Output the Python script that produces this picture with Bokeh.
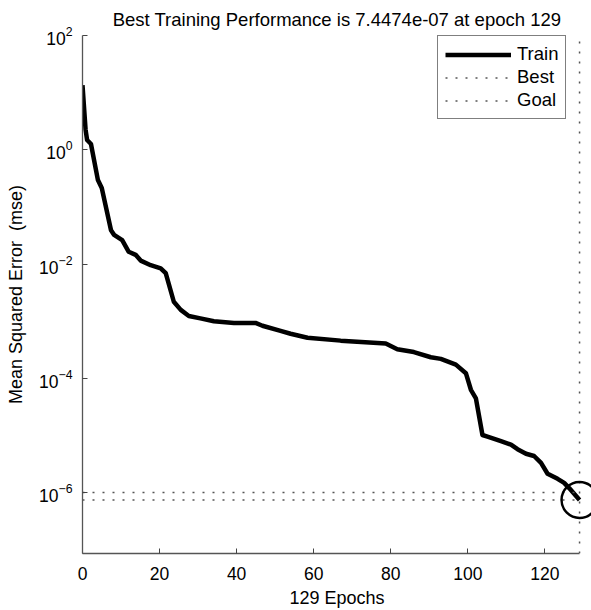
from bokeh.plotting import figure
from bokeh.models import Range1d, FixedTicker, Legend, LegendItem
from bokeh.embed import file_html
from bokeh.resources import INLINE

# ---- data ----
epochs = [0, 0.8, 1.2, 2.2, 4, 5, 7.4, 8.2, 10.3, 12, 13.8, 15.1, 17.7, 20.3,
          21.6, 23.7, 25.5, 27.6, 30.6, 34.1, 39.3, 44.9, 46.7, 51.4, 54,
          58.4, 67, 78.7, 81.7, 86, 90.4, 93, 96.9, 99.5, 100.8, 102.1,
          103.8, 105.1, 108.6, 111.2, 112.9, 115.1, 117.2, 119, 120.7,
          123.3, 125, 126.3, 129]
mse = [13.5, 2.24, 1.48, 1.26, 0.295, 0.214, 0.0389, 0.0324, 0.0263, 0.0164,
       0.0145, 0.0115, 0.00955, 0.00841, 0.00692, 0.00219, 0.00158, 0.00123,
       0.00112, 0.00100, 0.000933, 0.000933, 0.000832, 0.000676, 0.000603,
       0.000513, 0.000457, 0.000407, 0.000324, 0.000288, 0.000234, 0.000219,
       0.000174, 0.000123, 6.31e-5, 4.47e-5, 1.02e-5, 9.55e-6, 7.94e-6,
       6.92e-6, 5.75e-6, 4.79e-6, 4.37e-6, 3.31e-6, 2.14e-6, 1.74e-6,
       1.48e-6, 1.20e-6, 7.4474e-7]
best_epoch = 129
best_perf = 7.4474e-07
goal = 1e-06
x_ticks = [0, 20, 40, 60, 80, 100, 120]
y_ticks = [1e2, 1e0, 1e-2, 1e-4, 1e-6]
y_min, y_max = 8.6e-8, 1e2
x_min, x_axis_max, x_view_max = 0, 129, 132.1

FONT = "Liberation Sans"

p = figure(width=591, height=610, y_axis_type="log",
           x_range=Range1d(x_min, x_view_max), y_range=Range1d(y_min, y_max),
           output_backend="svg", toolbar_location=None,
           title="Best Training Performance is 7.4474e-07 at epoch 129")
p.min_border_left = 82
p.min_border_right = 0
p.min_border_top = 35
p.min_border_bottom = 55
p.outline_line_color = None
p.grid.visible = False
p.background_fill_color = "white"
p.border_fill_color = "white"

p.title.text_font = FONT
p.title.text_font_size = "18.5px"
p.title.text_font_style = "normal"
p.title.align = "center"
p.title.text_color = "black"
p.title.text_line_height = 0.6
p.title.standoff = 12

dot = "2 8"
r_train = p.line(epochs, mse, line_width=4.5, line_color="black",
                 line_join="round")
r_best_h = p.line([x_min, best_epoch], [best_perf, best_perf],
                  line_dash=dot, line_color="#555555", line_width=1.5)
r_best_v = p.line([best_epoch, best_epoch], [y_min, y_max],
                  line_dash=dot, line_color="#555555", line_width=1.5)
r_goal = p.line([x_min, best_epoch], [goal, goal],
                line_dash=dot, line_color="#555555", line_width=1.5)
p.scatter([best_epoch], [best_perf], marker="circle", size=36,
          fill_color=None, line_color="black", line_width=2.5)

legend = Legend(items=[LegendItem(label="Train", renderers=[r_train]),
                       LegendItem(label="Best", renderers=[r_best_h]),
                       LegendItem(label="Goal", renderers=[r_goal])],
                location=(355, 434))
legend.label_text_font = FONT
legend.label_text_font_size = "18.5px"
legend.label_text_color = "black"
legend.glyph_width = 66
legend.glyph_height = 21
legend.label_height = 21
legend.label_standoff = 6
legend.spacing = 1
legend.padding = 7
legend.margin = 0
legend.border_line_color = "black"
legend.border_line_width = 1.3
legend.background_fill_alpha = 1
p.add_layout(legend, "center")

p.xaxis.ticker = FixedTicker(ticks=x_ticks)
p.yaxis.ticker = FixedTicker(ticks=y_ticks)
p.xaxis.bounds = (x_min, x_axis_max)
for ax in (p.xaxis[0], p.yaxis[0]):
    ax.major_tick_in = 5
    ax.major_tick_out = 0
    ax.minor_tick_in = 0
    ax.minor_tick_out = 0
    ax.axis_line_color = "#555555"
    ax.axis_line_width = 1.3
    ax.major_tick_line_color = "#444444"
    ax.major_label_text_font = FONT
    ax.major_label_text_font_size = "17.5px"
    ax.major_label_text_color = "black"
    ax.axis_label_text_font = FONT
    ax.axis_label_text_font_size = "18px"
    ax.axis_label_text_font_style = "normal"
    ax.axis_label_text_color = "black"

p.xaxis.axis_label = "129 Epochs"
p.yaxis.axis_label = "Mean Squared Error\u00a0 (mse)"
p.xaxis.major_label_standoff = 13
p.xaxis.axis_label_standoff = 5
p.yaxis.major_label_standoff = 10
p.yaxis.axis_label_standoff = 10

open("out.html", "w").write(file_html(p, INLINE))
